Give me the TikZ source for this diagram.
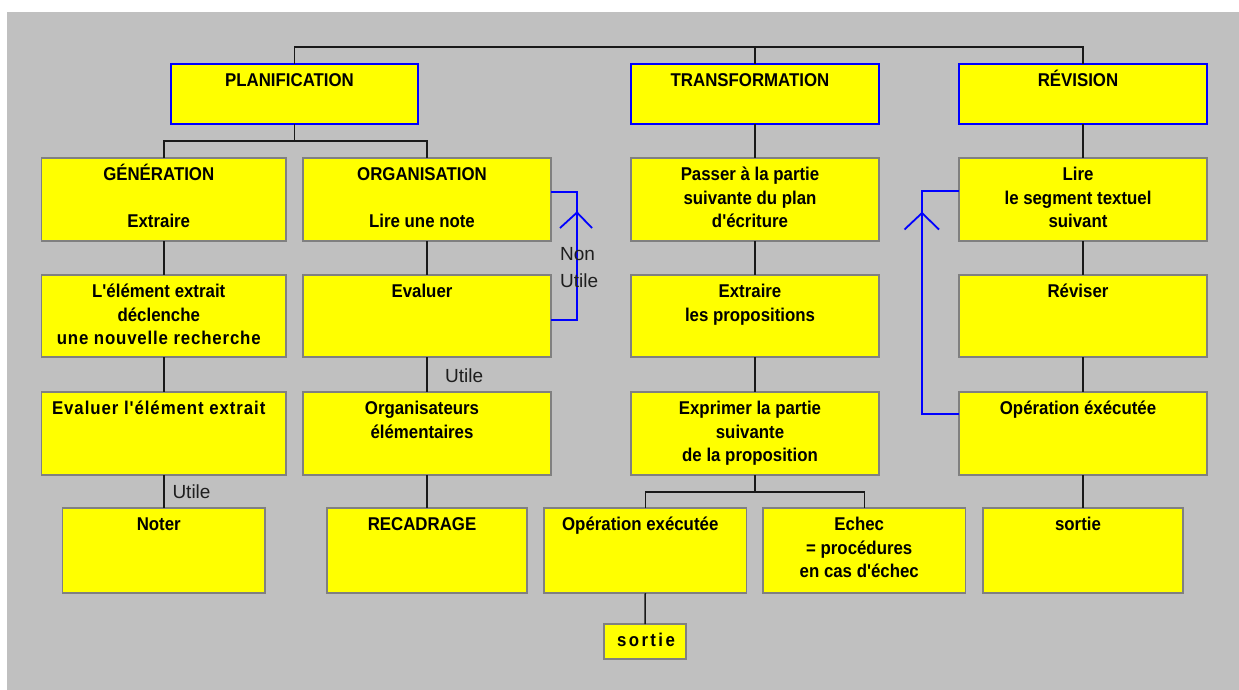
\documentclass[tikz,border=0pt]{standalone}
\usepackage{fontspec}
\setmainfont{Liberation Sans}
\newfontfamily\bxfont{Liberation Sans}[FakeStretch=0.91]
\newfontfamily\lblfont{Liberation Sans}
\definecolor{bggray}{HTML}{C0C0C0}
\definecolor{boxgray}{HTML}{808080}
\definecolor{ylw}{HTML}{FFFF00}
\definecolor{fbblue}{HTML}{0000FF}
\definecolor{lblgray}{HTML}{1E1E1E}
\newcommand\boxtxt[3]{\parbox[t][#2][t]{#1}{\centering\rightskip=10pt plus 1fil\relax
  \bxfont\bfseries\fontsize{18.5}{23.5}\selectfont\rule{0pt}{22.5pt}#3}}
% \bx[style]{name}{x1}{y1}{x2}{y2}{text}
\newcommand\bx[7][]{\node[ybox,#1] (#2) at (#3,#4)
  {\boxtxt{\dimexpr #5pt-#3pt\relax}{\dimexpr #6pt-#4pt\relax}{#7}};}
\tikzset{
  ybox/.style={draw=boxgray, fill=ylw, line width=1.2pt, inner sep=0pt, outer sep=0pt, anchor=north west},
  topbox/.style={draw=fbblue, line width=1.6pt},
  conn/.style={line width=1.5pt, draw=black!90},
  fb/.style={draw=fbblue, line width=1.8pt},
  lbl/.style={font=\lblfont\fontsize{19}{23}\selectfont, text=lblgray, inner sep=0pt, anchor=base west}
}
\begin{document}
\begin{tikzpicture}[x=1pt,y=-1pt]
\useasboundingbox (0,0) rectangle (1239,690);
\fill[white] (0,0) rectangle (1239,690);
\fill[bggray] (7,12) rectangle (1239,690);
% row 1
\bx[topbox]{P}{171}{64}{418}{124}{PLANIFICATION}
\bx[topbox]{T}{631}{64}{879}{124}{TRANSFORMATION}
\bx[topbox]{R}{959}{64}{1207}{124}{RÉVISION}
% row 2
\bx{G}{41.5}{158}{286}{241}{GÉNÉRATION\\[23.5pt]Extraire}
\bx{O}{303}{158}{551}{241}{ORGANISATION\\[23.5pt]Lire une note}
\bx{Pa}{631}{158}{879}{241}{Passer à la partie\\suivante du plan\\d'écriture}
\bx{Li}{959}{158}{1207}{241}{Lire\\le segment textuel\\suivant}
% row 3
\bx{L}{41.5}{275}{286}{357}{L'élément extrait\\déclenche\\{\addfontfeature{LetterSpace=4.5}une nouvelle recherche}}
\bx{E}{303}{275}{551}{357}{Evaluer}
\bx{X}{631}{275}{879}{357}{Extraire\\les propositions}
\bx{Rv}{959}{275}{1207}{357}{Réviser}
% row 4
\bx{EE}{41.5}{392}{286}{475}{{\addfontfeature{LetterSpace=5}Evaluer l'élément extrait}}
\bx{Or}{303}{392}{551}{475}{Organisateurs\\élémentaires}
\bx{Ex}{631}{392}{879}{475}{Exprimer la partie\\suivante\\de la proposition}
\bx{Op}{959}{392}{1207}{475}{Opération éxécutée}
% row 5
\bx{N}{62.5}{508}{265}{593}{Noter}
\bx{RC}{327}{508}{527}{593}{RECADRAGE}
\bx{OE}{544}{508}{746.5}{593}{Opération exécutée}
\bx{Ec}{763}{508}{965.5}{593}{Echec\\= procédures\\en cas d'échec}
\bx{S}{983}{508}{1183}{593}{sortie}
\bx{S2}{604}{624}{686}{659}{\mbox{\hspace*{12pt}\addfontfeature{LetterSpace=13}sortie}}
% bus coordinates
\coordinate (top) at (0,47);
\coordinate (b2) at (0,141);
\coordinate (b5) at (0,492);
% connectors
\draw[conn] (P.north) -- (P.north |- top) -- (R.north |- top) -- (R.north);
\draw[conn] (T.north) -- (T.north |- top);
\draw[conn] (P.south) -- (P.south |- b2);
\draw[conn] (G.north) |- (P.south |- b2) -| (O.north);
\draw[conn] (T.south) -- (Pa.north);
\draw[conn] (Pa.south) -- (X.north);
\draw[conn] (X.south) -- (Ex.north);
\draw[conn] (R.south) -- (Li.north);
\draw[conn] (Li.south) -- (Rv.north);
\draw[conn] (Rv.south) -- (Op.north);
\draw[conn] (Op.south) -- (S.north);
\draw[conn] (G.south) -- (L.north);
\draw[conn] (L.south) -- (EE.north);
\draw[conn] (EE.south) -- (N.north);
\draw[conn] (O.south) -- (E.north);
\draw[conn] (E.south) -- (Or.north);
\draw[conn] (Or.south) -- (RC.north);
\draw[conn] (Ex.south) -- (Ex.south |- b5);
\draw[conn] (OE.north) |- (Ex.south |- b5) -| (Ec.north);
\draw[conn] (OE.south) -- (S2.north);
% feedback loops
\coordinate (nu1) at (577,192);
\coordinate (nu2) at (577,320);
\draw[fb] (O.east |- nu1) -- (nu1) -- (nu2) -- (E.east |- nu2);
\draw[fb] (nu1) ++(-17,36) -- ++(17,-15.5) -- ++(15,15.5);
\coordinate (rv1) at (922,191);
\coordinate (rv2) at (922,414);
\draw[fb] (Li.west |- rv1) -- (rv1) -- (rv2) -- (Op.west |- rv2);
\draw[fb] (rv1) ++(-17.5,38.5) -- ++(17.5,-16.5) -- ++(17,16.5);
% labels
\node[lbl] (non) at (560,260) {Non};
\node[lbl] (nonutile) at (560,287.7) {Utile};
\node[lbl] (utile1) at (445,382.3) {Utile};
\node[lbl] (utile2) at (172.3,498.7) {Utile};
\end{tikzpicture}
\end{document}
